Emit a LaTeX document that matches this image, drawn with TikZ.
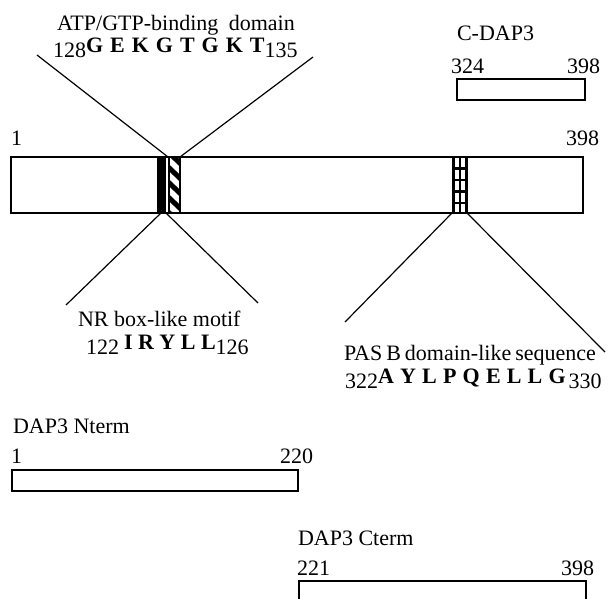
\documentclass[tikz,border=0pt]{standalone}
\usepackage{fontspec}
\setmainfont{Liberation Serif}
\begin{document}
\begin{tikzpicture}[x=1pt,y=-1pt,
  txt/.style={inner sep=0pt,outer sep=0pt,font=\fontsize{22}{24}\selectfont},
  bw/.style={txt,anchor=base west},
  be/.style={txt,anchor=base east},
  bar/.style={draw=black,line width=1.3pt,fill=white},
  conn/.style={draw=black,line width=1.2pt},
  grid/.style={draw=black,line width=2.8pt}]
\clip (0,0) rectangle (611,598);
\fill[white] (0,0) rectangle (611,598);

% ---- main bar
\draw[bar] (11,157) rectangle (583,213);
\node[bw] (m1) at (11,145) {1};
\node[be] (m398) at (599,145) {398};
% black band
\fill[black] (157,157) rectangle (166,213);
% hatched band
\begin{scope}
  \clip (169,157) rectangle (180,213);
  \fill[white] (169,157) rectangle (180,213);
  \foreach \k in {0,...,4} {
    \draw[black,line width=5pt] (164,148+15*\k) -- (185,168+15*\k);
  }
\end{scope}
\draw[black,line width=1.6pt] (169,157) rectangle (180,213);
% checkered band
\fill[white] (452,157) rectangle (468,213);
\draw[grid] (453.4,157) rectangle (466.6,213);
\draw[grid] (460,157) -- (460,213);
\foreach \yy in {168.5,180,191.5,203} { \draw[grid] (453,\yy) -- (467,\yy); }

% ---- anchor points on bar
\coordinate (atpL) at (168,157);
\coordinate (atpR) at (180,157);
\coordinate (nrL) at (161,213);
\coordinate (nrR) at (166,213);
\coordinate (pasL) at (452,213);
\coordinate (pasR) at (467,213);
\coordinate (atpLe) at (37,55);
\coordinate (atpRe) at (313,57);
\coordinate (nrLe) at (66,305);
\coordinate (nrRe) at (258,303);
\coordinate (pasLe) at (345,322);
\coordinate (pasRe) at (605,352);
\draw[conn] (atpLe) -- (atpL);
\draw[conn] (atpRe) -- (atpR);
\draw[conn] (nrLe) -- (nrL);
\draw[conn] (nrRe) -- (nrR);
\draw[conn] (pasLe) -- (pasL);
\draw[conn] (pasRe) -- (pasR);

% ---- ATP label
\node[bw] (atp) at (57,30) {ATP/GTP-binding\hspace{5pt} domain};
\node[bw] (atpseq) at (53,57) {128\raisebox{5pt}{\bfseries\spaceskip=7pt G E K G T G K T}135};

% ---- NR label
\node[bw] (nr) at (78,326) {NR box-like motif};
\node[bw] (nrseq) at (86,354) {122\hspace{5pt}\raisebox{5pt}{\bfseries\spaceskip=5.5pt I R Y L L}126};

% ---- PAS label
\node[bw] (pas) at (344,360) {\spaceskip=4pt PAS B domain-like sequence};
\node[bw] (passeq) at (345,388) {322\raisebox{5pt}{\bfseries\spaceskip=6.2pt A Y L P Q E L L G}\hspace{3pt}330};

% ---- C-DAP3
\node[bw] (cdap) at (457,40) {C-DAP3};
\node[bw] (c324) at (451,73) {324};
\node[be] (c398) at (600,73) {398};
\draw[bar] (457,79) rectangle (585,100);

% ---- DAP3 Nterm
\node[bw] (nt) at (13,433) {DAP3 Nterm};
\node[bw] (n1) at (11,463) {1};
\node[be] (n220) at (313,463) {220};
\draw[bar] (12,470) rectangle (298,491);

% ---- DAP3 Cterm
\node[bw] (ct) at (298,545) {DAP3 Cterm};
\node[bw] (c221) at (297,575) {221};
\node[be] (c398b) at (594,575) {398};
\draw[bar] (299,581) rectangle (586,612);
\end{tikzpicture}
\end{document}
